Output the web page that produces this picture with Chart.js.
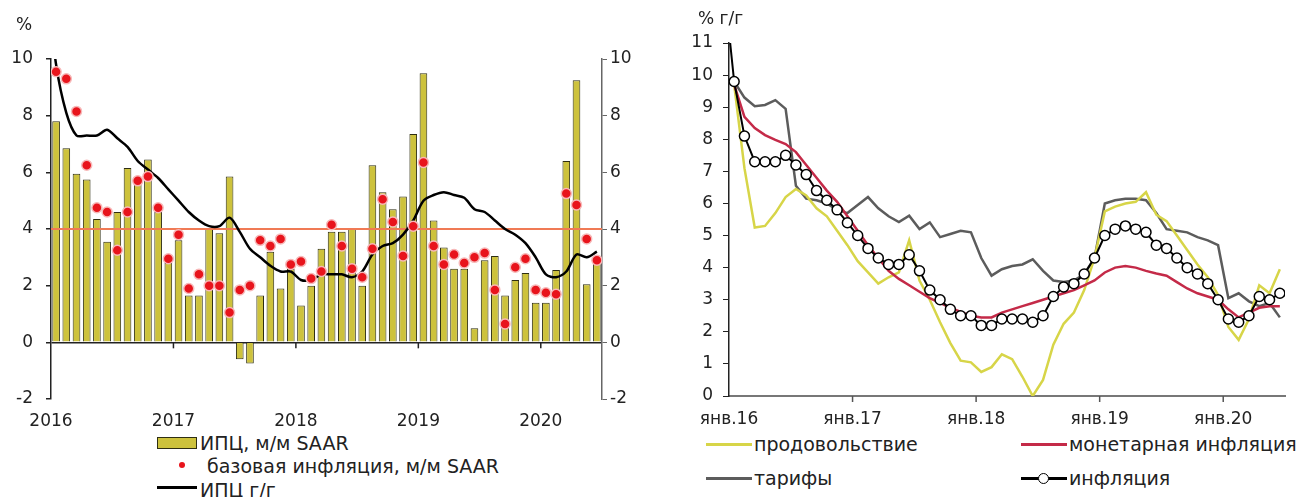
<!DOCTYPE html>
<html><head><meta charset="utf-8">
<script src="https://cdn.jsdelivr.net/npm/chart.js@4.4.1/dist/chart.umd.min.js"></script>
<style>
body{margin:0;background:#fff;}
#wrap{position:relative;width:1310px;height:497px;overflow:hidden;font-family:"DejaVu Sans",sans-serif;color:#222;}
.t{position:absolute;white-space:nowrap;line-height:20px;height:20px;}
.sw{position:absolute;box-sizing:border-box;}
</style></head><body><div id="wrap">
<canvas id="c1" width="655" height="430" style="position:absolute;left:0;top:0"></canvas>
<canvas id="c2" width="655" height="430" style="position:absolute;left:655px;top:0"></canvas>
</div>
<script>
// ---- data (Jan 2016 .. Jun 2020, monthly) ----
const yearLabelsL = ['2016','2017','2018','2019','2020'];
const yearLabelsR = ['янв.16','янв.17','янв.18','янв.19','янв.20'];
const monthsPerYear = 12;

// ИПЦ, м/м SAAR
const cpiMoM = [
 7.8, 6.85, 5.95, 5.75, 4.35, 3.55, 4.6, 6.15, 5.6, 6.45, 4.6, 2.8,
 3.6, 1.65, 1.65, 4.0, 3.85, 5.85, -0.6, -0.75, 1.65, 3.2, 1.9, 2.6,
 1.3, 2.0, 3.3, 3.9, 3.9, 4.0, 2.0, 6.25, 5.3, 4.7, 5.15, 7.35,
 9.5, 4.3, 3.35, 2.6, 2.6, 0.5, 2.9, 3.05, 1.65, 2.2, 2.45, 1.4,
 1.4, 2.55, 6.4, 9.25, 2.05, 2.9
];
// базовая инфляция, м/м SAAR
const coreMoM = [
 9.55, 9.3, 8.15, 6.25, 4.75, 4.6, 3.25, 4.6, 5.7, 5.85, 4.75, 2.95,
 3.8, 1.9, 2.4, 2.0, 2.0, 1.05, 1.85, 2.0, 3.6, 3.4, 3.65, 2.75,
 2.85, 2.25, 2.5, 4.15, 3.4, 2.6, 2.3, 3.3, 5.05, 4.25, 3.05, 4.1,
 6.35, 3.4, 2.75, 3.1, 2.8, 3.0, 3.15, 1.85, 0.65, 2.65, 2.95, 1.85,
 1.75, 1.7, 5.25, 4.85, 3.65, 2.9
];
// ИПЦ г/г (инфляция); value for Dec 2015 enters the plot from above
const cpiYoYPrev = 12.9;
const cpiYoY = [
 9.8, 8.1, 7.3, 7.3, 7.3, 7.5, 7.2, 6.9, 6.4, 6.1, 5.8, 5.4,
 5.0, 4.6, 4.3, 4.1, 4.1, 4.4, 3.9, 3.3, 3.0, 2.7, 2.5, 2.5,
 2.2, 2.2, 2.4, 2.4, 2.4, 2.3, 2.5, 3.1, 3.4, 3.5, 3.8, 4.3,
 5.0, 5.2, 5.3, 5.2, 5.1, 4.7, 4.6, 4.3, 4.0, 3.8, 3.5, 3.0,
 2.4, 2.3, 2.5, 3.1, 3.0, 3.2
];
const targetLevel = 4;
// продовольствие
const food = [
 9.7, 7.1, 5.25, 5.3, 5.7, 6.2, 6.45, 6.25, 5.85, 5.6, 5.15, 4.7,
 4.2, 3.85, 3.5, 3.7, 3.85, 4.85, 3.6, 3.0, 2.3, 1.65, 1.1, 1.05,
 0.75, 0.9, 1.3, 1.15, 0.6, 0.0, 0.5, 1.6, 2.25, 2.6, 3.3, 4.3,
 5.75, 5.9, 6.0, 6.05, 6.35, 5.65, 5.45, 5.0, 4.55, 4.1, 3.7, 3.15,
 2.15, 1.75, 2.4, 3.45, 3.2, 3.95
];
// монетарная инфляция
const monetary = [
 9.7, 8.7, 8.35, 8.13, 7.98, 7.85, 7.6, 7.2, 6.8, 6.4, 6.05, 5.6,
 5.15, 4.7, 4.3, 3.9, 3.65, 3.45, 3.25, 3.05, 2.9, 2.75, 2.62, 2.5,
 2.45, 2.45, 2.6, 2.7, 2.8, 2.9, 3.0, 3.1, 3.2, 3.3, 3.45, 3.6,
 3.85, 4.0, 4.05, 4.0, 3.9, 3.82, 3.75, 3.55, 3.35, 3.2, 3.1, 3.0,
 2.7, 2.45, 2.6, 2.75, 2.8, 2.8
];
// тарифы
const tariffs = [
 9.8, 9.3, 9.03, 9.07, 9.22, 8.95, 6.55, 6.15, 6.1, 6.0, 5.8, 5.7,
 5.95, 6.2, 5.85, 5.6, 5.42, 5.62, 5.2, 5.41, 4.95, 5.05, 5.15, 5.1,
 4.3, 3.75, 3.95, 4.05, 4.1, 4.26, 3.9, 3.6, 3.55, 3.6, 3.8, 4.3,
 6.0, 6.1, 6.15, 6.15, 6.1, 5.7, 5.2, 5.15, 5.1, 4.95, 4.85, 4.7,
 3.05, 3.2, 2.95, 2.8, 2.9, 2.45
];

// ---- helpers ----
const nMonths = cpiMoM.length;
const yearTicks = yearLabelsL.map((_, i) => i * monthsPerYear);
const pts = arr => arr.map((v, i) => ({x: i + 0.5, y: v}));
const withPrev = (prev, arr) => [{x: -0.5, y: prev}].concat(pts(arr));

const C = {
  bar: '#cdc23c', barBorder: '#2e2e12', core: '#e8141c', coreBorder: '#f7b9b9',
  yoy: '#000000', target: '#f07a55',
  food: '#d7d548', mon: '#c42a48', tar: '#5c5c5c', infl: '#000000', text: '#222222'
};
const tickFont = {family: 'DejaVu Sans', size: 17};

const yearTickMarks = {
  id: 'yearTickMarks',
  afterDraw(chart, args, opts) {
    const {ctx} = chart, xs = chart.scales.x;
    const y = chart.scales.y.getPixelForValue(opts.at);
    ctx.save();
    ctx.strokeStyle = opts.color; ctx.lineWidth = 1.5;
    xs.ticks.forEach(t => {
      if (t.value === xs.min) return;
      const x = xs.getPixelForValue(t.value);
      ctx.beginPath(); ctx.moveTo(x, y); ctx.lineTo(x, y + opts.len); ctx.stroke();
    });
    ctx.restore();
  }
};

// ---- left chart ----
new Chart(document.getElementById('c1'), {
  type: 'bar',
  data: {datasets: [
    {type: 'line', label: 'базовая инфляция, м/м SAAR', data: pts(coreMoM), showLine: false,
     pointRadius: 5, pointBackgroundColor: C.core, pointBorderColor: C.coreBorder, pointBorderWidth: 1.5, order: 0},
    {type: 'line', label: 'ИПЦ г/г', data: withPrev(cpiYoYPrev, cpiYoY), borderColor: C.yoy,
     borderWidth: 2.5, pointRadius: 0, tension: 0.3, order: 1},
    {type: 'line', label: 'цель', data: [{x: 0, y: targetLevel}, {x: nMonths, y: targetLevel}],
     borderColor: C.target, borderWidth: 2, pointRadius: 0, order: 2},
    {type: 'bar', label: 'ИПЦ, м/м SAAR', data: pts(cpiMoM), backgroundColor: C.bar,
     borderColor: C.barBorder, borderWidth: 1, barPercentage: 0.75, categoryPercentage: 1, order: 3}
  ]},
  options: {
    responsive: false, animation: false, events: [],
    layout: {padding: {top: 59, left: 0, right: 0, bottom: 0}},
    plugins: {legend: {display: false}, tooltip: {enabled: false},
      yearTickMarks: {at: 0, len: 6, color: '#222'}},
    scales: {
      x: {type: 'linear', min: 0, max: nMonths, offset: false,
        grid: {display: false, offset: false}, border: {display: false},
        afterBuildTicks: s => { s.ticks = yearTicks.map(v => ({value: v})); },
        ticks: {autoSkip: false, maxRotation: 0, padding: 4, font: tickFont, color: C.text,
          callback: v => yearLabelsL[v / monthsPerYear]},
        afterFit: s => { s.height = 31; }},
      y: {position: 'left', min: -2, max: 10,
        ticks: {stepSize: 2, padding: 13, font: tickFont, color: C.text},
        grid: {color: c => (c.tick && c.tick.value === 0) ? '#222' : 'rgba(0,0,0,0)', lineWidth: 1.5,
          tickColor: '#222', tickLength: 5, drawTicks: true},
        border: {color: '#222', width: 1.5},
        afterFit: s => { s.width = 51; }},
      y2: {position: 'right', min: -2, max: 10,
        ticks: {stepSize: 2, padding: 3, font: tickFont, color: C.text},
        grid: {drawOnChartArea: false, tickColor: '#666', tickLength: 5},
        border: {color: '#666', width: 1.5},
        afterFit: s => { s.width = 53; }}
    }
  },
  plugins: [yearTickMarks]
});

// ---- right chart ----
new Chart(document.getElementById('c2'), {
  type: 'line',
  data: {datasets: [
    {label: 'инфляция', data: withPrev(cpiYoYPrev, cpiYoY), borderColor: C.infl, borderWidth: 2,
     pointRadius: c => c.dataIndex === 0 ? 0 : 5, pointBackgroundColor: '#fff',
     pointBorderColor: '#000', pointBorderWidth: 1.5, order: 0},
    {label: 'монетарная инфляция', data: pts(monetary), borderColor: C.mon, borderWidth: 2.5, pointRadius: 0, order: 1},
    {label: 'продовольствие', data: pts(food), borderColor: C.food, borderWidth: 2.5, pointRadius: 0, order: 2},
    {label: 'тарифы', data: pts(tariffs), borderColor: C.tar, borderWidth: 2.5, pointRadius: 0, order: 3}
  ]},
  options: {
    responsive: false, animation: false, events: [],
    layout: {padding: {top: 43, left: 0, right: 25, bottom: 0}},
    plugins: {legend: {display: false}, tooltip: {enabled: false},
      yearTickMarks: {at: 0, len: 6, color: '#555'}},
    scales: {
      x: {type: 'linear', min: 0, max: nMonths, offset: false,
        grid: {display: false}, border: {color: '#777', width: 2},
        afterBuildTicks: s => { s.ticks = yearTicks.map(v => ({value: v})); },
        ticks: {autoSkip: false, maxRotation: 0, padding: 5, font: tickFont, color: C.text,
          callback: v => yearLabelsR[v / monthsPerYear]},
        afterFit: s => { s.height = 34; }},
      y: {min: 0, max: 11,
        ticks: {stepSize: 1, padding: 10, font: tickFont, color: C.text},
        grid: {drawOnChartArea: false, tickColor: '#222', tickLength: 6},
        border: {color: '#222', width: 1.5},
        afterFit: s => { s.width = 74; }}
    }
  },
  plugins: [yearTickMarks]
});

// ---- axis unit labels and legends (real text) ----
const wrap = document.getElementById('wrap');
function add(html, css, cls) {
  const d = document.createElement('div');
  d.className = cls || 't';
  if (html !== null) d.textContent = html;
  Object.assign(d.style, css);
  wrap.appendChild(d);
  return d;
}
add('%', {left: '16px', top: '14px', fontSize: '17px'});
add('% г/г', {left: '698px', top: '8px', fontSize: '17px'});

const legendFont = '19px';
// left legend
add(null, {left: '157px', top: '437px', width: '40px', height: '12px', background: C.bar, border: '1px solid ' + C.barBorder}, 'sw');
add('ИПЦ, м/м SAAR', {left: '200px', top: '433px', fontSize: legendFont});
add(null, {left: '179px', top: '462px', width: '6px', height: '6px', background: C.core, borderRadius: '50%'}, 'sw');
add('базовая инфляция, м/м SAAR', {left: '207px', top: '456px', fontSize: legendFont});
add(null, {left: '157px', top: '486px', width: '40px', height: '3px', background: C.yoy}, 'sw');
add('ИПЦ г/г', {left: '200px', top: '480px', fontSize: legendFont});

// right legend
const rightLegend = [
  {label: 'продовольствие', color: C.food, x: 706, y: 444, marker: false},
  {label: 'монетарная инфляция', color: C.mon, x: 1021, y: 444, marker: false},
  {label: 'тарифы', color: C.tar, x: 706, y: 478, marker: false},
  {label: 'инфляция', color: C.infl, x: 1021, y: 478, marker: true}
];
rightLegend.forEach(it => {
  add(null, {left: it.x + 'px', top: (it.y - 1) + 'px', width: '46px', height: '3px', background: it.color}, 'sw');
  if (it.marker) add(null, {left: (it.x + 17) + 'px', top: (it.y - 5) + 'px', width: '11px', height: '11px',
    background: '#fff', border: '1.5px solid #000', borderRadius: '50%'}, 'sw');
  add(it.label, {left: (it.x + 48) + 'px', top: (it.y - 10) + 'px', fontSize: legendFont});
});
</script>
</body></html>
